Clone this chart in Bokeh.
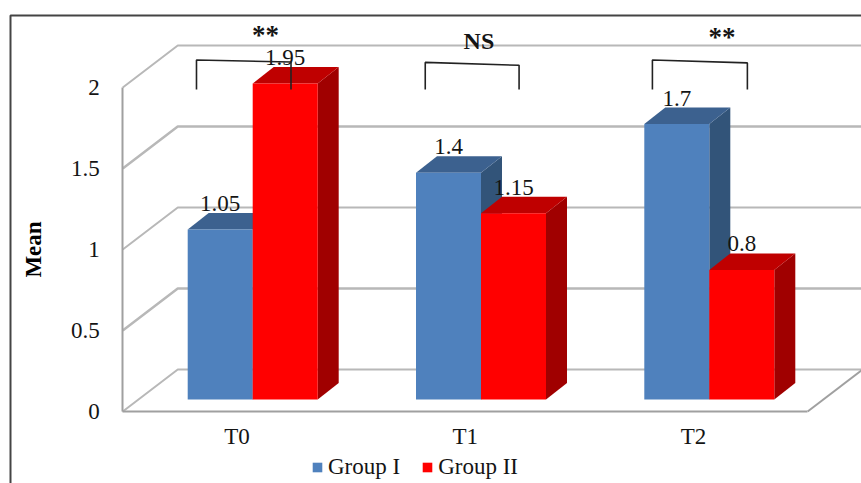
from bokeh.core.properties import value
from bokeh.embed import file_html
from bokeh.models import FixedTicker, Legend, LegendItem, Range1d
from bokeh.plotting import figure
from bokeh.resources import INLINE

# Chart data
categories = ["T0", "T1", "T2"]
group_one = [1.05, 1.4, 1.7]
group_two = [1.95, 1.15, 0.8]
y_ticks = [0, 0.5, 1, 1.5, 2]
y_tick_labels = ["0", "0.5", "1", "1.5", "2"]
significance = ["**", "NS", "**"]

# Page and scale set-up: one category step and one value unit in pixels
WIDTH, HEIGHT = 861, 483
CAT_PX, VAL_PX = 228.3, 162.0
ORIGIN_X, ORIGIN_Y = 236.4, 411.0


def data_x(px):
    return (px - ORIGIN_X) / CAT_PX


def data_y(py):
    return (ORIGIN_Y - py) / VAL_PX


SERIF = "Liberation Serif"
FONT = "23px"
TEXT_DARK = "#141414"
WALL_DX, WALL_DY = 55 / CAT_PX, 42 / VAL_PX
BAR_W = 65 / CAT_PX
BAR_DX, BAR_DY = 21 / CAT_PX, 16.5 / VAL_PX
BAR_SHIFT_X, BAR_SHIFT_Y = 15.8 / CAT_PX, 12 / VAL_PX
AXIS_GREY = "#a0a0a0"
GRID_GREY = "#b8b8b8"

p = figure(
    width=WIDTH, height=HEIGHT, output_backend="svg", toolbar_location=None,
    x_range=Range1d(data_x(0), data_x(WIDTH)),
    y_range=Range1d(data_y(HEIGHT), data_y(0)),
    min_border=0, min_border_left=0, min_border_right=0,
    min_border_top=0, min_border_bottom=0,
    outline_line_color=None, background_fill_color="white",
)
p.grid.visible = False

# Value axis on the front edge of the left wall
yaxis = p.yaxis[0]
yaxis.fixed_location = -0.5
yaxis.bounds = (0, 2)
yaxis.ticker = FixedTicker(ticks=y_ticks)
yaxis.major_label_overrides = dict(zip(y_ticks, y_tick_labels))
yaxis.major_tick_line_color = None
yaxis.minor_tick_line_color = None
yaxis.axis_line_color = AXIS_GREY
yaxis.axis_line_width = 2
yaxis.major_label_standoff = 17
yaxis.major_label_text_font = SERIF
yaxis.major_label_text_font_size = FONT
yaxis.major_label_text_color = TEXT_DARK
yaxis.axis_label = "Mean"
yaxis.axis_label_text_font = SERIF
yaxis.axis_label_text_font_style = "bold"
yaxis.axis_label_text_font_size = FONT
yaxis.axis_label_text_color = "#000000"
yaxis.axis_label_standoff = 22

# Category axis along the front edge of the floor
xaxis = p.xaxis[0]
xaxis.fixed_location = 0
xaxis.bounds = (-0.5, len(categories) - 0.5)
xaxis.ticker = FixedTicker(ticks=list(range(len(categories))))
xaxis.major_label_overrides = dict(enumerate(categories))
xaxis.major_tick_line_color = None
xaxis.minor_tick_line_color = None
xaxis.axis_line_color = AXIS_GREY
xaxis.axis_line_width = 2
xaxis.major_label_standoff = 6
xaxis.major_label_text_font = SERIF
xaxis.major_label_text_font_size = FONT
xaxis.major_label_text_color = TEXT_DARK

# Frame around the chart, open at the bottom and the right
p.line([data_x(10), data_x(10), data_x(WIDTH)], [data_y(HEIGHT), data_y(15), data_y(15)],
       line_color="#444444", line_width=2)

# Gridlines folded over the left and back walls
x_end = len(categories) - 0.5
for v in y_ticks:
    p.line([-0.5, -0.5 + WALL_DX, x_end + WALL_DX], [v, v + WALL_DY, v + WALL_DY],
           line_color=GRID_GREY, line_width=2.5 if v in (0.5, 1.5) else 2)
p.line([x_end, x_end + WALL_DX], [0, WALL_DY], line_color=AXIS_GREY, line_width=2)


def draw_bars(values, offset, front, top, side):
    lefts = [i + BAR_SHIFT_X + offset for i in range(len(values))]
    rights = [x + BAR_W for x in lefts]
    base = BAR_SHIFT_Y
    tops = [v + base for v in values]
    p.patches(
        [[r, r + BAR_DX, r + BAR_DX, r] for r in rights],
        [[base, base + BAR_DY, t + BAR_DY, t] for t in tops],
        fill_color=side, line_color=None,
    )
    p.patches(
        [[l, l + BAR_DX, r + BAR_DX, r] for l, r in zip(lefts, rights)],
        [[t, t + BAR_DY, t + BAR_DY, t] for t in tops],
        fill_color=top, line_color=None,
    )
    return p.quad(left=lefts, right=rights, bottom=base, top=tops,
                  fill_color=front, line_color=None)


r_one = draw_bars(group_one, -BAR_W, "#4f81bd", "#3c618f", "#325479")
r_two = draw_bars(group_two, 0, "#ff0000", "#bf0000", "#a00000")

# Value labels sit on the back edge of each bar's top face
for values, offset in ((group_one, -BAR_W / 2), (group_two, BAR_W / 2)):
    p.text(
        [i + BAR_SHIFT_X + offset for i in range(len(values))],
        [v + BAR_SHIFT_Y + BAR_DY for v in values],
        text=[str(v) for v in values],
        text_font=value(SERIF), text_font_size=value(FONT),
        text_align="center", text_baseline="bottom", text_color=TEXT_DARK,
        y_offset=-2,
    )

# Significance brackets above each pair of bars
bracket_left = [-0.177, -0.175, -0.18]
bracket_right = [0.237, 0.236, 0.236]
bracket_top_left = [2.17, 2.155, 2.17]
bracket_top_right = [2.157, 2.137, 2.152]
BRACKET_FOOT = 1.988
for i in range(len(categories)):
    p.line(
        [i + bracket_left[i], i + bracket_left[i], i + bracket_right[i], i + bracket_right[i]],
        [BRACKET_FOOT, bracket_top_left[i], bracket_top_right[i], BRACKET_FOOT],
        line_color="#222222", line_width=1.6,
    )
p.text(
    [0.125, 1.06, 2.125], [data_y(44), data_y(48), data_y(46)], text=significance,
    text_font=value(SERIF), text_font_size=["27px", "24px", "27px"], text_font_style="bold",
    text_align="center", text_baseline="bottom", text_color=TEXT_DARK,
    y_offset=5,
)

legend = Legend(
    items=[LegendItem(label="Group I", renderers=[r_one]),
           LegendItem(label="Group II", renderers=[r_two])],
    orientation="horizontal", location=(311, 3),
    glyph_width=12, glyph_height=12, label_standoff=5, spacing=21,
    margin=0, padding=0, border_line_color=None, background_fill_alpha=0,
    label_text_font=SERIF, label_text_font_size=FONT, label_text_color=TEXT_DARK,
)
p.add_layout(legend, "center")

open("out.html", "w").write(file_html(p, INLINE))
